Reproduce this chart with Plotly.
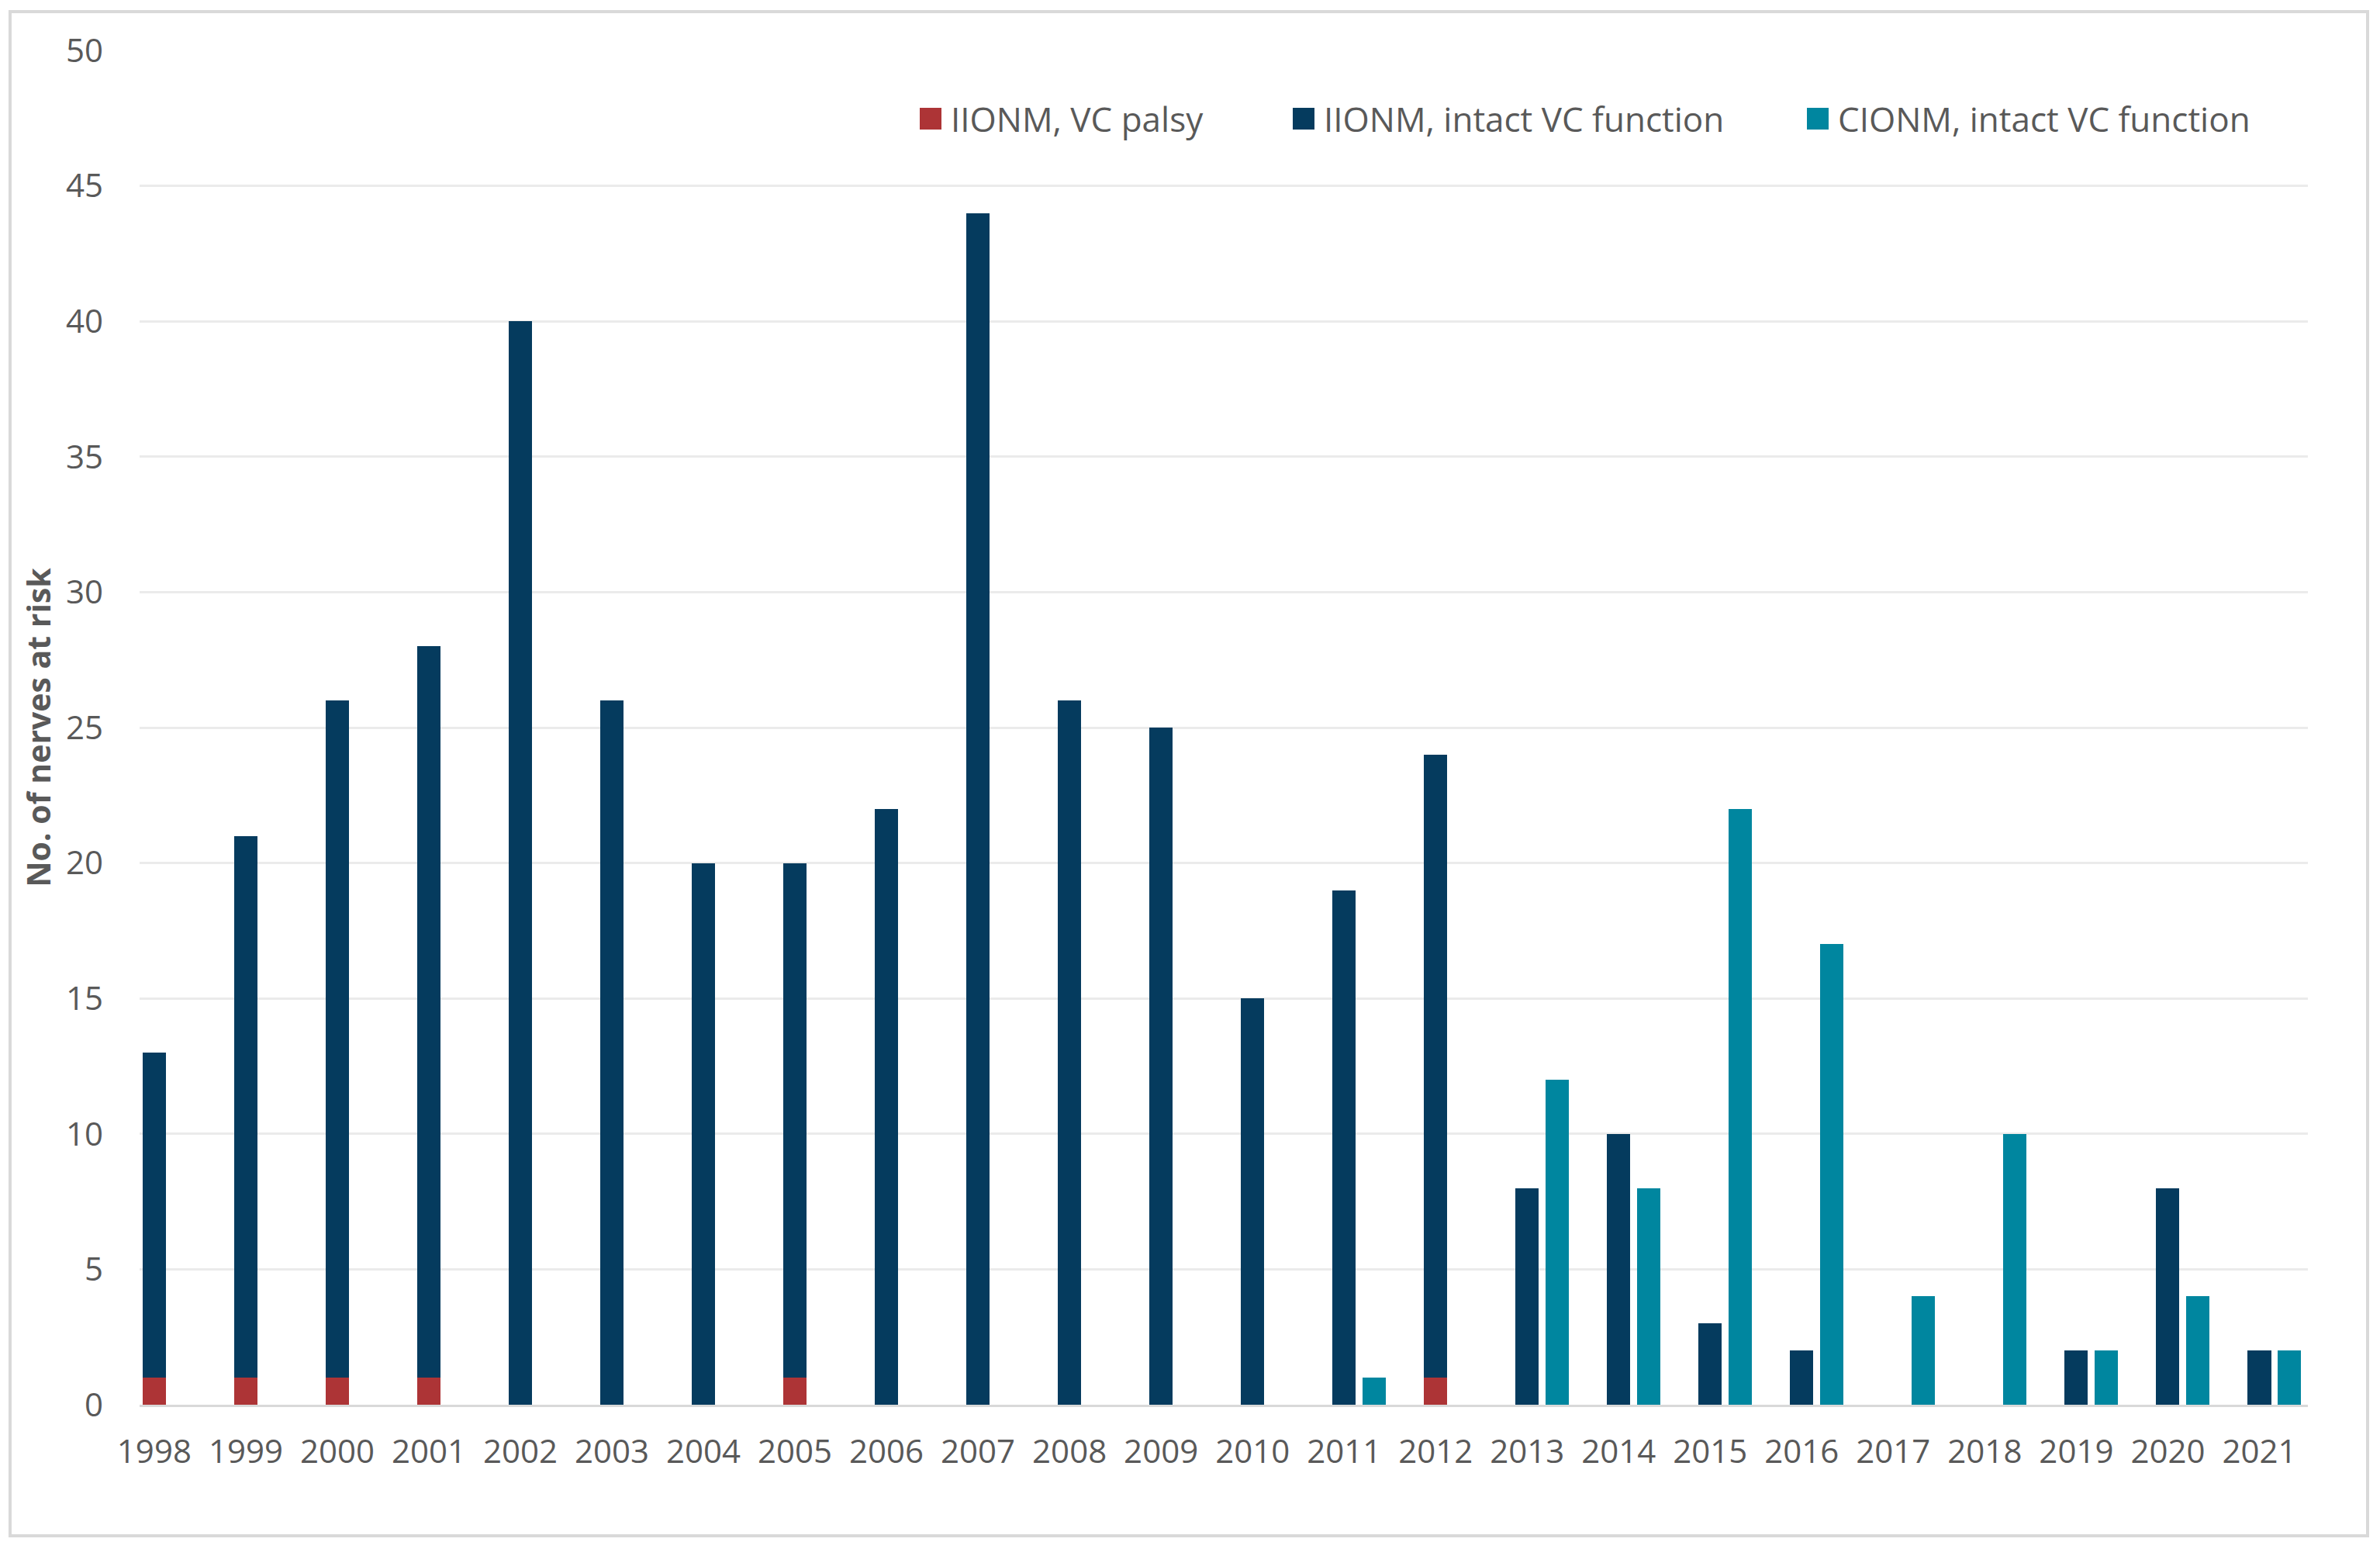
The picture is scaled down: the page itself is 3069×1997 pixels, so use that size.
import plotly.graph_objects as go

# ---------------- data ----------------
years = ["1998", "1999", "2000", "2001", "2002", "2003", "2004", "2005",
         "2006", "2007", "2008", "2009", "2010", "2011", "2012", "2013",
         "2014", "2015", "2016", "2017", "2018", "2019", "2020", "2021"]
vc_palsy = [1, 1, 1, 1, 0, 0, 0, 1, 0, 0, 0, 0, 0, 0, 1, 0, 0, 0, 0, 0, 0, 0, 0, 0]
iionm_intact = [12, 20, 25, 27, 40, 26, 20, 19, 22, 44, 26, 25, 15, 19, 23, 8,
                10, 3, 2, 0, 0, 2, 8, 2]
cionm_intact = [0, 0, 0, 0, 0, 0, 0, 0, 0, 0, 0, 0, 0, 1, 0, 12, 8, 22, 17, 4,
                10, 2, 4, 2]
series_names = ["IIONM, VC palsy", "IIONM, intact VC function",
                "CIONM, intact VC function"]
y_tick_values = [0, 5, 10, 15, 20, 25, 30, 35, 40, 45, 50]
y_title = "No. of nerves at risk"

# ---------------- style ----------------
RED = "#AD3436"
NAVY = "#053B5E"
TEAL = "#00869F"
TXT = "#595959"
FONT = "Open Sans"

OFF = 8  # browser body margin
W, H = 3069 - OFF, 1997 - OFF
L, R, T, B = 180 - OFF, 2976 - OFF, 65 - OFF, 1811 - OFF  # plot area in pixels

BAR_W = 0.255
TEAL_SHIFT = 0.33


def px(x):
    return (x - OFF - L) / (R - L)


def py(y):
    return (B - (y - OFF)) / (B - T)


fig = go.Figure()
fig.add_trace(go.Bar(x=years, y=vc_palsy, name=series_names[0],
                     marker=dict(color=RED, line=dict(width=0)),
                     width=BAR_W, offset=-BAR_W / 2, showlegend=False))
fig.add_trace(go.Bar(x=years, y=iionm_intact, base=vc_palsy, name=series_names[1],
                     marker=dict(color=NAVY, line=dict(width=0)),
                     width=BAR_W, offset=-BAR_W / 2, showlegend=False))
fig.add_trace(go.Bar(x=years, y=cionm_intact, name=series_names[2],
                     marker=dict(color=TEAL, line=dict(width=0)),
                     width=BAR_W, offset=TEAL_SHIFT - BAR_W / 2, showlegend=False))

# ---------------- legend (drawn manually for large swatches) ----------------
legend_x = [1186, 1667, 2330]
sw = 28
ly = 153
shapes = []
annotations = []
for name, col, x0 in zip(series_names, [RED, NAVY, TEAL], legend_x):
    shapes.append(dict(type="rect", xref="paper", yref="paper",
                       x0=px(x0), x1=px(x0 + sw), y0=py(ly + sw / 2), y1=py(ly - sw / 2),
                       fillcolor=col, line=dict(width=0)))
    annotations.append(dict(xref="paper", yref="paper", x=px(x0 + sw + 10), y=py(ly),
                            xanchor="left", yanchor="middle", showarrow=False,
                            text=name, font=dict(family=FONT, size=44, color=TXT)))

# outer border
shapes.append(dict(type="rect", xref="paper", yref="paper", layer="below",
                   x0=px(13), x1=px(3053), y0=py(1980), y1=py(15),
                   fillcolor="rgba(0,0,0,0)", line=dict(color="#D9D9D9", width=4)))

fig.update_layout(
    width=W, height=H,
    margin=dict(l=L, r=W - R, t=T, b=H - B, pad=0),
    paper_bgcolor="white", plot_bgcolor="white",
    barmode="overlay", bargap=0,
    font=dict(family=FONT, color=TXT, size=42),
    shapes=shapes, annotations=annotations,
    xaxis=dict(type="category", range=[-0.16, 23.53], showgrid=False,
               showline=True, linecolor="#D9D9D9", linewidth=3,
               ticks="", ticklabelstandoff=22,
               tickfont=dict(family=FONT, size=42, color=TXT)),
    yaxis=dict(range=[0, 50], tickvals=y_tick_values, showgrid=True,
               gridcolor="#EBEBEB", gridwidth=3, zeroline=False, showline=False,
               ticks="", ticklabelstandoff=46,
               tickfont=dict(family=FONT, size=42, color=TXT),
               title=dict(text="<b>" + y_title + "</b>", standoff=6,
                          font=dict(family=FONT, size=41, color=TXT))),
)

fig.write_html("out.html")
